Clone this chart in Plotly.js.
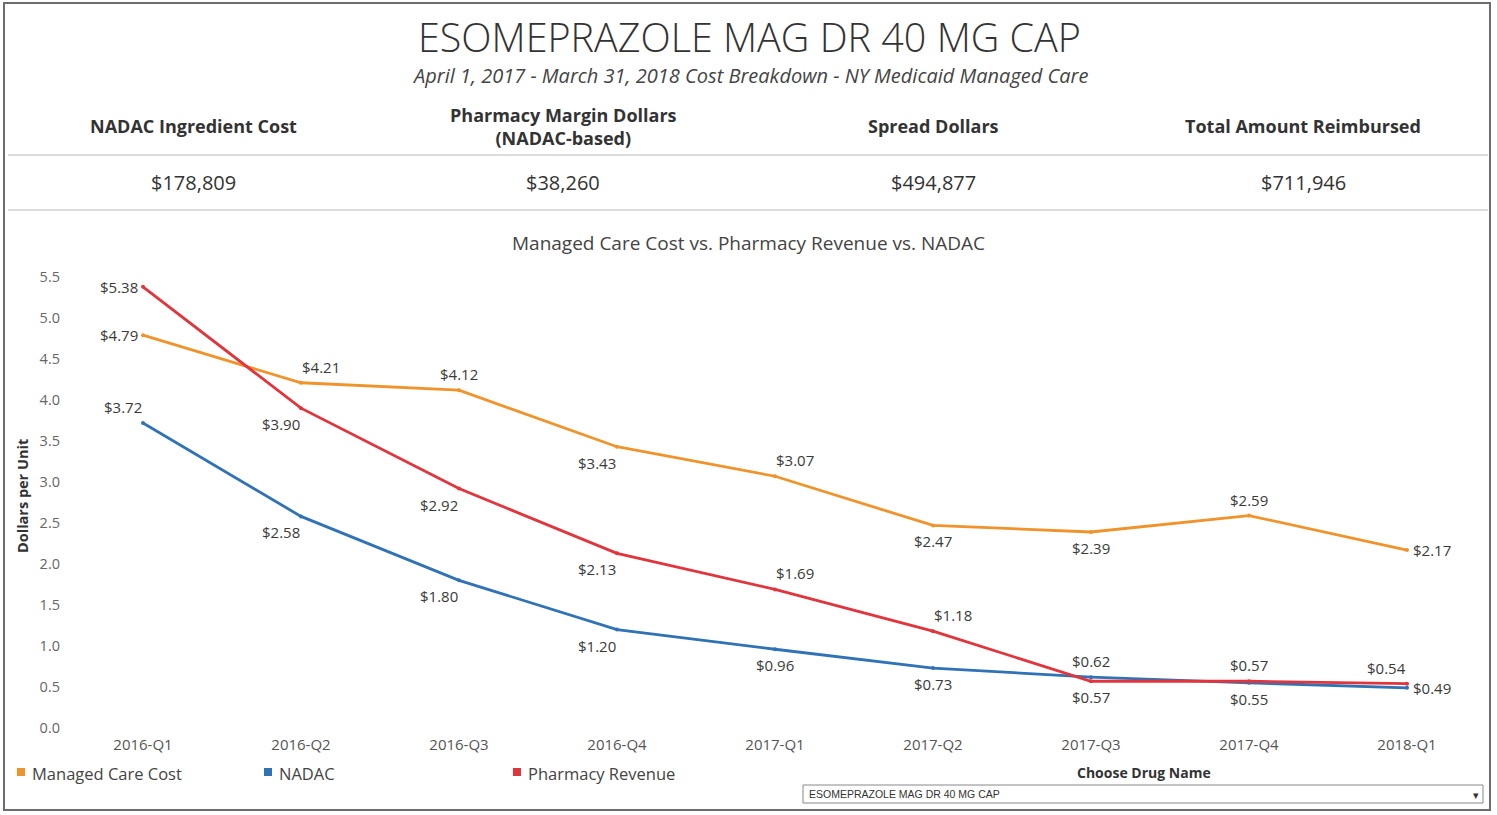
<!DOCTYPE html>
<html>
<head>
<meta charset="utf-8">
<script src="https://cdn.plot.ly/plotly-3.0.1.min.js"></script>
<style>html,body{margin:0;padding:0;background:#fff;}#chart{width:1497px;height:815px;}</style>
</head>
<body>
<div id="chart"></div>
<script>
// ---- data ----
var quarters = ['2016-Q1','2016-Q2','2016-Q3','2016-Q4','2017-Q1','2017-Q2','2017-Q3','2017-Q4','2018-Q1'];
var managedCareCost = [4.79, 4.21, 4.12, 3.43, 3.07, 2.47, 2.39, 2.59, 2.17];
var nadac = [3.72, 2.58, 1.80, 1.20, 0.96, 0.73, 0.62, 0.55, 0.49];
var pharmacyRevenue = [5.38, 3.90, 2.92, 2.13, 1.69, 1.18, 0.57, 0.57, 0.54];
var kpiLabels = ['NADAC Ingredient Cost', 'Pharmacy Margin Dollars<br>(NADAC-based)', 'Spread Dollars', 'Total Amount Reimbursed'];
var kpiValues = ['$178,809', '$38,260', '$494,877', '$711,946'];
var seriesNames = ['Managed Care Cost', 'NADAC', 'Pharmacy Revenue'];
var drugName = 'ESOMEPRAZOLE MAG DR 40 MG CAP';

// ---- styles ----
var colors = ['#F0932B', '#3072B6', '#E2343C'];
var posMC = ['middle left','top right','top center','bottom left','top right','bottom center','bottom center','top center','middle right'];
var posNA = ['top left','bottom left','bottom left','bottom left','bottom center','bottom center','top center','bottom center','middle right'];
var posPR = ['middle left','bottom left','bottom left','bottom left','top right','top right','bottom center','top center','top left'];

var FONT = 'Open Sans, Noto Sans, sans-serif';
var W = 1497, H = 815;
var L = 64, R = 11, T = 261, B = 79;
var PW = W - L - R, PH = H - T - B;
function px(x){ return (x - L) / PW; }
function py(y){ return (H - B - y) / PH; }

function fmt(v){ return '$' + v.toFixed(2); }

function mk(name, vals, color){
  return {
    type: 'scatter', mode: 'lines+markers', name: name,
    x: quarters, y: vals,
    line: {color: color, width: 2.8}, marker: {color: color, size: 4},
    cliponaxis: false, showlegend: false, hoverinfo: 'x+y+name'
  };
}
var traces = [
  mk(seriesNames[0], managedCareCost, colors[0]),
  mk(seriesNames[1], nadac, colors[1]),
  mk(seriesNames[2], pharmacyRevenue, colors[2])
];

var ann = [];
// data labels, positioned relative to each point through the axes
function labels(vals, pos){
  for (var i = 0; i < vals.length; i++) {
    var p = pos[i].split(' ');
    var o = {xref:'x', yref:'y', x: quarters[i], y: vals[i], text: fmt(vals[i]), showarrow:false,
      font:{family:FONT, size:15, color:'#3a3a3a'}, xanchor:'center', yanchor:'middle', xshift:0, yshift:0};
    if (p[0] === 'top') { o.yanchor = 'bottom'; o.yshift = 4; }
    if (p[0] === 'bottom') { o.yanchor = 'top'; o.yshift = -4; }
    if (p[1] === 'left') { o.xanchor = 'right'; o.xshift = (p[0] === 'middle') ? -3 : 1; }
    if (p[1] === 'right') { o.xanchor = 'left'; o.xshift = (p[0] === 'middle') ? 4 : -1; }
    ann.push(o);
  }
}
labels(managedCareCost, posMC);
labels(nadac, posNA);
labels(pharmacyRevenue, posPR);

function A(x, y, text, opts){
  var o = {xref:'paper', yref:'paper', x: px(x), y: py(y), text: text, showarrow:false,
    xanchor:'center', yanchor:'middle', font:{family:FONT, size:15, color:'#333'}};
  for (var k in opts) o[k] = opts[k];
  ann.push(o);
}
A(749, 37, drugName, {font:{family:FONT, size:39.5, color:'#333', weight:300}});
A(750, 76, 'April 1, 2017 - March 31, 2018 Cost Breakdown - NY Medicaid Managed Care',
  {font:{family:FONT, size:20, color:'#444', style:'italic'}});
var kpiX = [193, 563, 933, 1303];
for (var i = 0; i < kpiLabels.length; i++) {
  A(kpiX[i], 126, '<b>' + kpiLabels[i] + '</b>', {font:{family:FONT, size:18, color:'#333'}});
  A(kpiX[i], 183, kpiValues[i], {font:{family:FONT, size:20, color:'#333'}});
}
A(748, 243, 'Managed Care Cost vs. Pharmacy Revenue vs. NADAC', {font:{family:FONT, size:19, color:'#444'}});
A(22, 496, '<b>Dollars per Unit</b>', {textangle:-90, font:{family:FONT, size:14.5, color:'#333'}});
var legX = [30, 277, 526];
for (var j = 0; j < seriesNames.length; j++) {
  A(legX[j], 773, seriesNames[j], {xanchor:'left', font:{family:FONT, size:16.5, color:'#444'}});
}
A(1144, 772, '<b>Choose Drug Name</b>', {font:{family:FONT, size:14, color:'#333'}});
A(807, 794, drugName, {xanchor:'left', font:{family:'Liberation Sans Narrow, Liberation Sans, sans-serif', size:10.5, color:'#333'}});
A(1476, 794, '▾', {font:{family:FONT, size:11, color:'#333'}});

var shapes = [];
function rectPx(x0, y0, x1, y1, line, fill){
  shapes.push({type:'rect', xref:'paper', yref:'paper', x0:px(x0), x1:px(x1), y0:py(y1), y1:py(y0),
    line:line, fillcolor: fill || 'rgba(0,0,0,0)'});
}
function hline(y, x0, x1, color, w){
  shapes.push({type:'line', xref:'paper', yref:'paper', x0:px(x0), x1:px(x1), y0:py(y), y1:py(y),
    line:{color:color, width:w}});
}
rectPx(4, 3, 1490, 810, {color:'#6d6d6d', width:2});
hline(155, 8, 1488, '#dcdcdc', 2);
hline(210, 8, 1488, '#dcdcdc', 2);
for (var k = 0; k < 3; k++) {
  rectPx(legX[k] - 13, 768, legX[k] - 5, 776, {width:0}, colors[k]);
}
rectPx(803, 785, 1483, 803, {color:'#888', width:1}, '#fff');

var layout = {
  width: W, height: H,
  margin: {l: L, r: R, t: T, b: B, pad: 0},
  paper_bgcolor: '#fff', plot_bgcolor: '#fff',
  font: {family: FONT},
  xaxis: {type:'category', range:[-0.5, 8.5], showgrid:false, zeroline:false, showline:false,
    ticks:'', ticklabelstandoff: -2, tickfont:{family:FONT, size:15, color:'#555'}, fixedrange:true},
  yaxis: {range:[-0.098, 5.695], dtick:0.5, tickformat:'.1f', showgrid:false, zeroline:false,
    showline:false, ticks:'', ticklabelstandoff: 3, tickfont:{family:FONT, size:14.5, color:'#666'}, fixedrange:true},
  annotations: ann, shapes: shapes, showlegend: false
};
Plotly.newPlot('chart', traces, layout, {displayModeBar:false, staticPlot:true});
</script>
</body>
</html>
